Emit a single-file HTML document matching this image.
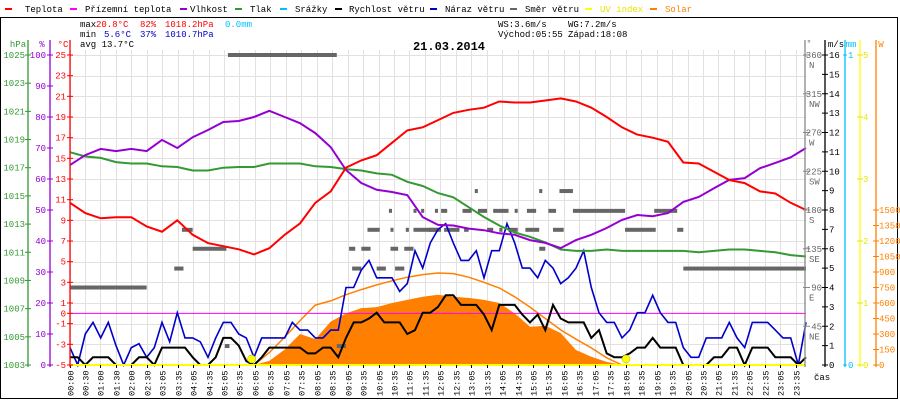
<!DOCTYPE html>
<html><head><meta charset="utf-8">
<style>
html,body{margin:0;padding:0;background:#fff;}
svg{display:block;font-family:"Liberation Mono",monospace;}
</style></head>
<body>
<svg id="chart" width="900" height="400" viewBox="0 0 900 400">
<rect x="0.5" y="17.5" width="897" height="381" fill="none" stroke="#000"/>
<g id="grid"></g>
<g id="series"></g>
<g id="axes"></g>
<g font-size="9">
  <g><rect x="5" y="8" width="7" height="2" fill="#f00"/><text x="25" y="12">Teplota</text></g>
  <g><rect x="70" y="8" width="7" height="2" fill="#f0f"/><text x="85" y="12">Přízemní teplota</text></g>
  <g><rect x="180" y="8" width="7" height="2" fill="#9400d3"/><text x="190" y="12">Vlhkost</text></g>
  <g><rect x="235" y="8" width="7" height="2" fill="#339933"/><text x="250" y="12">Tlak</text></g>
  <g><rect x="280" y="8" width="7" height="2" fill="#00bfff"/><text x="295" y="12">Srážky</text></g>
  <g><rect x="335" y="8" width="7" height="2" fill="#000"/><text x="349" y="12">Rychlost větru</text></g>
  <g><rect x="430" y="8" width="7" height="2" fill="#00c"/><text x="445" y="12">Náraz větru</text></g>
  <g><rect x="510" y="8" width="7" height="2" fill="#666"/><text x="525" y="12">Směr větru</text></g>
  <g><rect x="585" y="8" width="7" height="2" fill="#ff0"/><text x="600" y="12" fill="#e6e600">UV index</text></g>
  <g><rect x="650" y="8" width="7" height="2" fill="#ff8000"/><text x="665" y="12" fill="#ff8000">Solar</text></g>
</g>
<g font-size="9">
  <text x="80" y="27">max</text><text x="96" y="27" fill="#f00">20.8°C</text><text x="140" y="27" fill="#f00">82%</text><text x="165" y="27" fill="#f00">1018.2hPa</text><text x="225" y="27" fill="#00bfff">0.0mm</text>
  <text x="80" y="37">min</text><text x="104" y="37" fill="#00c">5.6°C</text><text x="140" y="37" fill="#00c">37%</text><text x="165" y="37" fill="#00c">1010.7hPa</text>
  <text x="80" y="47">avg 13.7°C</text>
  <text x="498" y="27">WS:3.6m/s</text><text x="568" y="27">WG:7.2m/s</text>
  <text x="498" y="37">Východ:05:55</text><text x="568" y="37">Západ:18:08</text>
</g>
<text x="449" y="50" text-anchor="middle" font-size="12" font-weight="bold">21.03.2014</text>
</svg>
<script>
const NS="http://www.w3.org/2000/svg";
// ---- data ----
const temperature=[10.7,9.7,9.2,9.3,9.3,8.4,7.9,9.0,7.6,6.8,6.5,6.2,5.7,6.3,7.6,8.7,10.7,11.8,14.1,14.8,15.3,16.5,17.7,18.0,18.7,19.4,19.7,19.9,20.5,20.4,20.4,20.6,20.8,20.5,19.9,19.0,18.0,17.3,17.0,16.6,14.6,14.5,13.7,12.9,12.6,11.8,11.6,10.7,10.0];
const humidity=[64.5,67.7,69.7,69,69.7,69,72.6,70,73.5,75.8,78.4,78.7,80,82,80,78,74.8,70.3,62.9,58.7,56.5,55.8,54.8,47.7,45.2,45,44,43.5,42.5,42,40.3,39.4,37.7,40.3,42,44.2,46.8,48.4,48,49,52.6,54.2,57,59.7,60.3,63.5,65.2,67,70];
const pressure=[1018.1,1017.8,1017.7,1017.4,1017.3,1017.3,1017.1,1017.05,1016.8,1016.8,1017.0,1017.05,1017.05,1017.3,1017.3,1017.3,1017.1,1017.05,1016.9,1016.8,1016.6,1016.5,1016.0,1015.7,1015.2,1014.9,1014.2,1013.5,1012.9,1012.4,1012.1,1011.7,1011.2,1011.1,1011.1,1011.2,1011.1,1011.1,1011.1,1011.1,1011.1,1011.0,1011.1,1011.2,1011.2,1011.1,1011.0,1010.8,1010.7];
const windSpeed=[0.4,0.4,0,0.4,0.4,0.4,0,0,0,0.4,0.4,0,0.9,0.9,0.9,0.9,0.4,0,0,0.4,1.4,1.4,1.0,0.2,0,
0.4,0.9,0.9,0.9,0.9,0.9,0.6,0.6,0.9,0.9,0.4,1.4,2.2,2.2,2.4,2.7,2.2,2.2,2.2,1.6,1.8,2.7,2.7,3.0,
3.6,3.6,3.1,3.1,3.1,2.6,1.8,3.1,3.1,3.1,2.6,2.2,2.6,1.8,3.1,2.4,2.2,2.2,2.2,1.4,1.8,0.6,0.4,0.4,
0.6,0.9,0.9,1.4,0.9,0.9,0.9,0,0,0,0,0.4,0.4,0.9,0.9,0,0.9,0.9,0.9,0.4,0.4,0.4,0,0.4];
const windGust=[0.9,0,1.6,2.2,1.4,2.2,1.0,0,0.9,1.1,0.4,0.9,2.2,1.2,2.7,1.4,1.4,1.2,0.4,1.4,2.2,2.2,1.6,1.4,0.4,
1.4,1.4,1.4,1.4,2.2,1.8,1.8,1.4,1.4,1.8,1.8,4.0,4.0,4.9,5.4,4.5,4.5,4.5,3.8,4.2,5.9,5.0,6.3,7.0,
7.3,6.3,5.4,5.4,5.9,4.5,5.9,5.9,7.3,6.3,5.0,5.0,4.5,5.4,5.0,4.2,4.5,5.0,5.9,4.0,2.7,2.2,2.2,1.4,
1.8,2.7,2.7,3.6,2.7,2.2,2.2,0.9,0.4,0.4,1.4,1.4,1.4,2.2,1.4,0.9,2.2,2.2,2.2,1.8,1.4,1.4,0,2.2];
const solarStart=6;
const solarMeasured=[0,40,150,300,250,420,500,550,560,600,630,660,680,660,650,630,600,500,370,380,310,145,80,30,0];
const solarTheoretical=[0,120,270,430,580,620,680,730,775,815,850,875,890,885,850,800,745,660,560,450,340,250,165,70,0];
const windDirStart=[0,5.15,3.4,3.65,4.0,5.05,8.7,9.1,9.5,9.2,10.0,10.45,10.6,10.9,9.7,10.45,10.95,11.2,10.4,11.2,11.45,11.9,13.2,15.3,15.96,12.1,12.8,13.3,13.8,14.5,14.9,15.6,16.4,19.05,11.7,12.2,12.85,13.6,14.0,14.3,14.85,15.1,15.75,18.1,19.8,15.3,20.0];
const windDirEnd=[2.5,8.7,3.7,4.0,5.1,5.2,9.0,9.3,9.8,9.5,10.3,10.7,10.9,11.2,10.1,10.55,11.05,12.0,10.5,11.3,11.55,12.0,13.3,15.4,16.4,12.3,13.1,13.6,14.3,14.6,15.2,15.85,18.1,19.8,12.1,12.7,13.0,13.8,14.1,14.6,15.1,15.3,16.1,19.1,20.0,15.5,24.0];
const windDirDeg=[90,360,112,157,135,22,22,135,135,112,112,135,112,135,157,157,157,157,179,179,179,179,202,202,202,179,179,179,179,179,179,179,179,179,157,157,157,157,157,157,157,157,157,157,157,135,112];
const sunriseH=5.92, sunsetH=18.13;
const timeLabels=["00:00","00:30","01:00","01:30","02:00","02:30"];
for(let h=3;h<24;h++){const hh=(h<10?"0":"")+h;timeLabels.push(hh+":05");timeLabels.push(hh+":35");}
const hpaTicks=[1025,1023,1021,1019,1017,1015,1013,1011,1009,1007,1005,1003];
const humTicks=[100,90,80,70,60,50,40,30,20,10,0];
const tempTicks=[25,23,21,19,17,15,13,11,9,7,5,3,1,0,-1,-3,-5];
const dirTicks=[360,315,270,225,180,135,90,45];
const dirNames=["N","NW","W","SW","S","SE","E","NE"];
const msTicks=[16,15,14,13,12,11,10,9,8,7,6,5,4,3,2,1,0];
const uvTicks=[5,4,3,2,1,0];
const wTicks=[1500,1350,1200,1050,900,750,600,450,300,150,0];

// ---- scales ----
const X0=70, X1=806, YT=55, YB=365;
const xT=h=>X0+h*(X1-X0)/24;
const yTemp=v=>YB-(v+5)*(YB-YT)/30;
const yHum=v=>YB-v*(YB-YT)/100;
const yP=v=>YB-(v-1003)*(YB-YT)/22;
const yWs=v=>YB-v*(YB-YT)/16;
const yDir=v=>YB-v*(YB-YT)/360;
const yUV=v=>YB-v*(YB-YT)/5;
const yW=v=>YB-v*(YB-YT)/3000;

function mk(tag,attrs,parent){const e=document.createElementNS(NS,tag);for(const k in attrs)e.setAttribute(k,attrs[k]);parent.appendChild(e);return e;}
const grid=document.getElementById('grid'),ser=document.getElementById('series'),ax=document.getElementById('axes');

// grid
for(let i=0;i<timeLabels.length;i++){
  const x=Math.round(69.5+i*15.45)+0.5;
  const l=mk('line',{x1:x,x2:x,y1:YT-5,y2:YB,stroke:'#e4e0e0'},grid);
  
  
  const tk=mk('line',{x1:x,x2:x,y1:YB,y2:YB+3,stroke:'#000'},ax);
  
  
  const t=mk('text',{x:0,y:0,'font-size':8.5,transform:`translate(${x+3},396) rotate(-90)`},ax);
  t.textContent=timeLabels[i];
  
  
}
tempTicks.forEach(v=>{ if(v%2!==0){const y=Math.round(yTemp(v))+0.5;
  const l=mk('line',{x1:X0,x2:X1,y1:y,y2:y,stroke:'#e4e0e0'},grid);
  
  }});

// solar fill
function area(start,arr,step){let d=`M${xT(start)},${YB}`;arr.forEach((v,i)=>{d+=`L${xT(start+i*step)},${yW(v)}`;});d+=`L${xT(start+(arr.length-1)*step)},${YB}Z`;return d;}
function line(arr,step,yf,start){return arr.map((v,i)=>(i?'L':'M')+xT((start||0)+i*step).toFixed(1)+','+yf(v).toFixed(1)).join('');}
const sf=mk('path',{d:area(solarStart,solarMeasured,0.5),fill:'#ff8000'},ser);


const st=mk('path',{d:line(solarTheoretical,0.5,yW,solarStart),fill:'none',stroke:'#ff8000','stroke-width':1.5},ser);



// wind direction
windDirDeg.forEach((d,i)=>{
  const r=mk('rect',{x:xT(windDirStart[i]),y:yDir(d)-2,width:Math.max(3,xT(windDirEnd[i])-xT(windDirStart[i])),height:4,fill:'#666'},ser);
  
  
});

// zero line (apparent temp)
const zl=mk('line',{x1:X0,x2:X1,y1:yTemp(0),y2:yTemp(0),stroke:'#f0f'},ser);



const s1=mk('path',{d:line(windGust,0.25,yWs),fill:'none',stroke:'#0000cc','stroke-width':1.6},ser);


const s2=mk('path',{d:line(windSpeed,0.25,yWs),fill:'none',stroke:'#000','stroke-width':2},ser);


const s3=mk('path',{d:line(pressure,0.5,yP),fill:'none',stroke:'#339933','stroke-width':2},ser);


const s4=mk('path',{d:line(humidity,0.5,yHum),fill:'none',stroke:'#9400d3','stroke-width':2},ser);


const s5=mk('path',{d:line(temperature,0.5,yTemp),fill:'none',stroke:'#f00','stroke-width':2},ser);


const uv=mk('line',{x1:X0,x2:X1,y1:YB,y2:YB,stroke:'#ff0','stroke-width':2},ser);


[sunriseH,sunsetH].forEach(h=>{
  const c=mk('circle',{cx:xT(h),cy:YB-6,r:4,fill:'#ff0',stroke:'#aa0','stroke-width':0.5},ser);
  
  
});

// axes
function vaxis(x,color,name){const l=mk('line',{x1:x,x2:x,y1:YT-15,y2:YB+2,stroke:color,'stroke-width':1.3},ax);}
function tlab(x,y,txt,color,anchor,name){const t=mk('text',{x:x,y:y+3,fill:color,'font-size':9,'text-anchor':anchor},ax);t.textContent=txt;}
function tick(x1,x2,y,color){const l=mk('line',{x1:x1,x2:x2,y1:y,y2:y,stroke:color},ax);}
vaxis(28,'#339933','hpa-axis');vaxis(50,'#9400d3','humidity-axis');vaxis(70,'#f00','temperature-axis');
tlab(18,YT-11,'hPa','#339933','middle','hpa-axis-title');tlab(42,YT-11,'%','#9400d3','middle','humidity-axis-title');tlab(63,YT-11,'°C','#f00','middle','temperature-axis-title');
hpaTicks.forEach(v=>{const y=yP(v);tick(25,31,y,'#339933');tlab(25,y,String(v),'#339933','end','hpa-tick-label');});
humTicks.forEach(v=>{const y=yHum(v);tick(47,53,y,'#9400d3');tlab(46,y,String(v),'#9400d3','end','humidity-tick-label');});
tempTicks.forEach(v=>{const y=yTemp(v);tick(67,73,y,'#f00');tlab(66,y,String(v),'#f00','end','temperature-tick-label');});

vaxis(805,'#888','direction-axis');vaxis(825,'#000','wind-speed-axis');vaxis(845,'#00bfff','rain-axis');vaxis(860,'#ff0','uv-axis');vaxis(876,'#ff8000','solar-axis');
tlab(809,YT-12,'°','#666','middle','direction-axis-title');tlab(836,YT-11,'m/s','#000','middle','wind-speed-axis-title');tlab(851,YT-11,'mm','#00bfff','middle','rain-axis-title');tlab(881,YT-11,'W','#ff8000','middle','solar-axis-title');
dirTicks.forEach((v,i)=>{const y=yDir(v);tick(803,810,y,'#888');tlab(822,y,String(v),'#666','end','direction-tick-label');tlab(809,y+10,dirNames[i],'#666','start','direction-name-label');});
msTicks.forEach(v=>{const y=yWs(v);tick(822,828,y,'#000');tlab(829,y,String(v),'#000','start','wind-speed-tick-label');});
tlab(848,YT,'1','#00bfff','start','rain-tick-label');tick(843,847,YT,'#00bfff');
tlab(848,YB,'0','#00bfff','start','rain-tick-label');tick(843,847,YB,'#00bfff');
uvTicks.forEach(v=>{const y=yUV(v);tick(857,863,y,'#e6e600');tlab(863,y,String(v),'#e6e600','start','uv-tick-label');});
wTicks.forEach(v=>{const y=yW(v);tick(873,879,y,'#ff8000');tlab(879,y,String(v),'#ff8000','start','solar-tick-label');});
tlab(814,YB+12,'čas','#000','start','x-axis-title');
</script>
</body></html>
